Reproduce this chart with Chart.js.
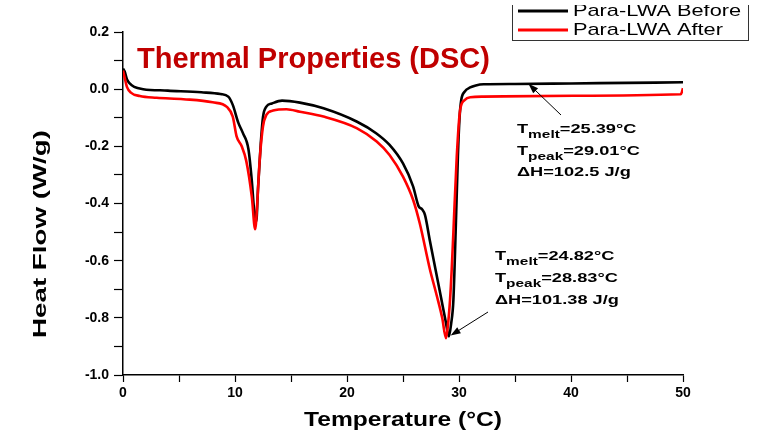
<!DOCTYPE html>
<html>
<head>
<meta charset="utf-8">
<title>Thermal Properties (DSC)</title>
<script src="https://cdn.jsdelivr.net/npm/chart.js@4.4.1/dist/chart.umd.min.js"></script>
<style>
  html, body { margin: 0; padding: 0; background: #fff; }
  #wrap { width: 761px; height: 431px; }
</style>
</head>
<body>
<div id="wrap"><canvas id="dscChart" width="761" height="431"></canvas></div>
<script>
// Para-LWA before cycling: temperature (°C) and heat flow (W/g)
const beforeTemp = [0, 0.15, 0.35, 0.6, 1.0, 1.8, 4, 7, 8.7, 9.4, 9.8, 10.3, 10.7, 11.2, 11.5, 11.7, 11.9,
  12.05, 12.3, 12.5, 12.8, 13.3, 14.2, 15.8, 17.9, 20.9, 22.6, 23.8, 25.0, 25.9, 26.4, 26.7, 26.96,
  27.4, 27.9, 28.4, 28.8, 29.1, 29.3, 29.5, 29.7, 29.9, 30.05, 30.2, 30.5, 31.0, 31.5, 32.2, 35, 40, 45, 50];
const beforeFlow = [0.072, 0.062, 0.035, 0.02, 0.008, 0.0, -0.005, -0.011, -0.017, -0.026, -0.055, -0.118, -0.153, -0.21, -0.32, -0.42, -0.463,
  -0.35, -0.19, -0.097, -0.061, -0.05, -0.04, -0.047, -0.067, -0.114, -0.154, -0.195, -0.26, -0.34, -0.41, -0.42, -0.44,
  -0.53, -0.63, -0.73, -0.81, -0.865, -0.82, -0.737, -0.50, -0.236, -0.10, -0.038, -0.009, 0.006, 0.013, 0.017, 0.018, 0.02, 0.022, 0.024];

// Para-LWA after cycling
const afterTemp = [0, 0.15, 0.35, 0.7, 1.5, 3, 5.4, 8.0, 9.3, 9.8, 10.15, 10.6, 11.0, 11.5, 11.8,
  12.0, 12.2, 12.5, 12.8, 13.4, 14.6, 15.8, 17.9, 20.9, 22.65, 23.8, 25.0, 25.9, 26.5, 27.4, 28.0, 28.5, 28.84,
  29.0, 29.2, 29.35, 29.5, 29.8, 30.1, 30.5, 31.0, 32.2, 40.2, 49.8, 50];
const afterFlow = [0.065, 0.04, 0.008, -0.012, -0.024, -0.03, -0.035, -0.046, -0.063, -0.096, -0.166, -0.2, -0.25, -0.376, -0.49,
  -0.39, -0.25, -0.13, -0.09, -0.075, -0.07, -0.079, -0.096, -0.137, -0.183, -0.23, -0.306, -0.387, -0.47, -0.63, -0.72, -0.8, -0.871,
  -0.83, -0.737, -0.63, -0.50, -0.236, -0.073, -0.038, -0.028, -0.026, -0.023, -0.018, 0.003];

const seriesNames = ['Para-LWA Before', 'Para-LWA After'];
const xTickLabels = [0, 10, 20, 30, 40, 50];
const yTickLabels = [0.2, 0.0, -0.2, -0.4, -0.6, -0.8, -1.0];

const FONT = '"Liberation Sans", Arial, Helvetica, sans-serif';

function toPoints(xs, ys) {
  return xs.map((x, i) => ({ x: x, y: ys[i] }));
}

// draws text stretched horizontally, returns drawn width
function stretchText(ctx, str, x, y, sx) {
  const w = ctx.measureText(str).width * sx;
  ctx.save();
  ctx.translate(x, y);
  ctx.scale(sx, 1);
  ctx.fillText(str, 0, 0);
  ctx.restore();
  return w;
}

function annLine(ctx, x, y, main, sub, rest) {
  ctx.textAlign = 'left';
  ctx.textBaseline = 'alphabetic';
  ctx.font = 'bold 13px ' + FONT;
  let w = stretchText(ctx, main, x, y, 1.4);
  if (sub) {
    ctx.font = 'bold 11px ' + FONT;
    w += stretchText(ctx, sub, x + w, y + 5, 1.4);
  }
  ctx.font = 'bold 13px ' + FONT;
  stretchText(ctx, rest, x + w, y, 1.4);
}

function arrow(ctx, x0, y0, x1, y1) {
  const a = Math.atan2(y1 - y0, x1 - x0);
  const c = Math.cos(a), s = Math.sin(a);
  ctx.strokeStyle = '#000';
  ctx.fillStyle = '#000';
  ctx.lineWidth = 1;
  ctx.beginPath();
  ctx.moveTo(x0, y0);
  ctx.lineTo(x1 - 6 * c, y1 - 6 * s);
  ctx.stroke();
  ctx.beginPath();
  ctx.moveTo(x1, y1);
  ctx.lineTo(x1 - 10 * c + 3.5 * s, y1 - 10 * s - 3.5 * c);
  ctx.lineTo(x1 - 10 * c - 3.5 * s, y1 - 10 * s + 3.5 * c);
  ctx.closePath();
  ctx.fill();
}

const decorations = {
  id: 'decorations',
  afterDraw(chart) {
    const ctx = chart.ctx;
    const xs = chart.scales.x, ys = chart.scales.y;
    ctx.save();

    // title
    ctx.fillStyle = '#c00000';
    ctx.font = 'bold 29px ' + FONT;
    ctx.textAlign = 'left';
    ctx.textBaseline = 'alphabetic';
    ctx.fillText('Thermal Properties (DSC)', 137, 68);

    // axis titles
    ctx.fillStyle = '#000';
    ctx.font = 'bold 20px ' + FONT;
    ctx.textAlign = 'center';
    let tw = ctx.measureText('Temperature (°C)').width;
    ctx.save();
    ctx.translate((xs.left + xs.right) / 2, 426);
    ctx.scale(198 / tw, 1);
    ctx.fillText('Temperature (°C)', 0, 0);
    ctx.restore();

    ctx.font = 'bold 19px ' + FONT;
    ctx.textBaseline = 'middle';
    tw = ctx.measureText('Heat Flow (W/g)').width;
    ctx.save();
    ctx.translate(41, 234);
    ctx.rotate(-Math.PI / 2);
    ctx.scale(208 / tw, 1);
    ctx.fillText('Heat Flow (W/g)', 0, 0);
    ctx.restore();

    // legend box, its top cut off by the picture edge
    ctx.fillStyle = '#fff';
    ctx.fillRect(512, -2, 237, 42);
    ctx.strokeStyle = '#333';
    ctx.lineWidth = 1;
    ctx.strokeRect(512.5, -2, 236, 42.5);
    const ds = chart.data.datasets;
    const rowY = [11, 30];
    ds.forEach((d, i) => {
      ctx.strokeStyle = d.borderColor;
      ctx.lineWidth = 3;
      ctx.beginPath();
      ctx.moveTo(518, rowY[i]);
      ctx.lineTo(568, rowY[i]);
      ctx.stroke();
      ctx.fillStyle = '#000';
      ctx.font = '17px ' + FONT;
      ctx.textAlign = 'left';
      ctx.textBaseline = 'alphabetic';
      stretchText(ctx, d.label, 573, rowY[i] + 5, 1.28);
    });
    ctx.fillStyle = '#fff';
    ctx.fillRect(0, 0, chart.width, 5);

    // annotations
    ctx.fillStyle = '#000';
    annLine(ctx, 517, 133, 'T', 'melt', '=25.39°C');
    annLine(ctx, 517, 155, 'T', 'peak', '=29.01°C');
    annLine(ctx, 517, 176, 'ΔH=102.5 J/g', '', '');
    arrow(ctx, 561, 115, xs.getPixelForValue(36.2), ys.getPixelForValue(0.019));

    ctx.fillStyle = '#000';
    annLine(ctx, 495, 260, 'T', 'melt', '=24.82°C');
    annLine(ctx, 495, 282, 'T', 'peak', '=28.83°C');
    annLine(ctx, 495, 304, 'ΔH=101.38 J/g', '', '');
    arrow(ctx, 488, 312, xs.getPixelForValue(29.25), ys.getPixelForValue(-0.862));

    ctx.restore();
  }
};

const tickFont = { family: FONT, size: 14, weight: 'bold' };

new Chart(document.getElementById('dscChart').getContext('2d'), {
  type: 'line',
  data: {
    datasets: [{
      label: seriesNames[0],
      data: toPoints(beforeTemp, beforeFlow),
      borderColor: '#000000',
      borderWidth: 2.6,
      pointRadius: 0,
      fill: false,
      cubicInterpolationMode: 'monotone',
      order: 1
    }, {
      label: seriesNames[1],
      data: toPoints(afterTemp, afterFlow),
      borderColor: '#ff0000',
      borderWidth: 2.6,
      pointRadius: 0,
      fill: false,
      cubicInterpolationMode: 'monotone',
      order: 0
    }]
  },
  options: {
    responsive: false,
    devicePixelRatio: 1,
    animation: false,
    layout: { padding: { left: 0, top: 32, right: 78, bottom: 0 } },
    plugins: {
      legend: { display: false },
      title: { display: false },
      tooltip: { enabled: false }
    },
    scales: {
      x: {
        type: 'linear',
        min: 0,
        max: 50,
        afterFit: s => { s.height = 56; },
        border: { display: true, color: '#000', width: 1.5 },
        grid: { drawOnChartArea: false, drawTicks: true, tickLength: 7, tickColor: '#000', tickWidth: 1.2 },
        ticks: {
          stepSize: 5,
          autoSkip: false,
          maxRotation: 0,
          padding: 3,
          color: '#000',
          font: tickFont,
          callback: v => xTickLabels.includes(v) ? String(v) : ''
        }
      },
      y: {
        type: 'linear',
        min: -1.0,
        max: 0.2,
        afterFit: s => { s.width = 123; },
        border: { display: true, color: '#000', width: 1.5 },
        grid: { drawOnChartArea: false, drawTicks: true, tickLength: 9, tickColor: '#000', tickWidth: 1.2 },
        ticks: {
          stepSize: 0.1,
          autoSkip: false,
          padding: 5,
          color: '#000',
          font: tickFont,
          callback: v => {
            const r = Math.round(v * 10) / 10;
            return yTickLabels.includes(r) ? r.toFixed(1) : '';
          }
        }
      }
    }
  },
  plugins: [decorations]
});
</script>
</body>
</html>
